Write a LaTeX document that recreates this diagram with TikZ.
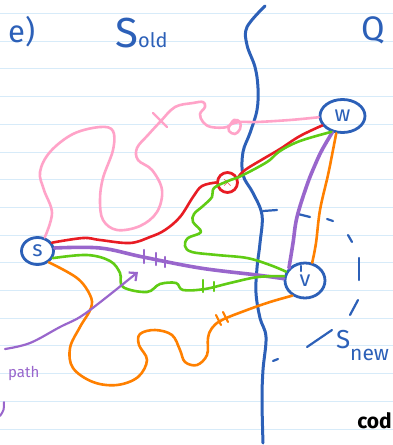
\documentclass[tikz,border=0pt]{standalone}
\usepackage{fontspec}
\setmainfont{Fira Sans}
\usetikzlibrary{shapes.geometric,arrows.meta}
\definecolor{ink}{RGB}{44,96,184}
\definecolor{pinkc}{RGB}{255,163,200}
\definecolor{redc}{RGB}{232,28,36}
\definecolor{greenc}{RGB}{96,204,20}
\definecolor{purplec}{RGB}{153,102,204}
\definecolor{orangec}{RGB}{255,128,0}
\definecolor{paper}{RGB}{215,235,249}
\begin{document}
\begin{tikzpicture}[x=1pt,y=-1pt,line cap=round,line join=round,
  pen/.style={line width=2.6pt},
  thickpen/.style={line width=3.6pt},
  vert/.style={ellipse,draw=ink,line width=2.8pt,inner sep=0pt,text=ink,font=\fontsize{22}{22}\selectfont},
  tick/.style={line width=2.2pt},
  dsh/.style={draw=ink,line width=2.2pt},
  lbl/.style={inner sep=0pt,text=ink}]
\useasboundingbox (0,0) rectangle (393,445);
\fill[white] (0,0) rectangle (393,445);
\foreach \k in {0,...,15} \draw[paper,line width=1pt] (0,13.5+27.7*\k) -- (393,13.5+27.7*\k);

% nodes
\node[vert,minimum width=32pt,minimum height=27pt] (S) at (37.5,251) {s};
\node[vert,minimum width=45pt,minimum height=33pt] (w) at (342.5,116) {w};
\node[vert,minimum width=40pt,minimum height=35pt] (v) at (305,280.5) {v};
\node[circle,draw=redc,line width=2.8pt,minimum size=20pt,inner sep=0pt,text=redc,font=\fontsize{14}{14}\selectfont] (x) at (227.5,182.5) {$\times$};

% boundary
\draw[ink,line width=3pt] plot[smooth,tension=0.6] coordinates {(265,6) (247,27) (247,45) (255,67) (258,88) (257,110) (250,133) (243,152) (243,175) (253,193) (262,215) (260,243) (257,268) (256,293) (260,318) (266,337) (263,370) (262,400) (263,443)};

% S_new dashed circle pieces
\draw[dsh] (263,211) -- (277,210);
\draw[dsh] (298,214) -- (310,217);
\draw[dsh] (327,219) -- (333,221);
\draw[dsh] (348,235) -- (352,242);
\draw[dsh] (359,258) -- (359,280);
\draw[dsh] (358,300) -- (350,315);
\draw[dsh] (332,330) -- (307,347);
\draw[dsh] (278,359) -- (273,361);
\draw[dsh] (301,266) -- (301,271);

% pink
\draw[pinkc,pen] plot[smooth,tension=0.6] coordinates {(S.62) (52,213) (44,190) (40,172) (50,152) (73,134) (100,127) (113,131) (113,150) (103,178) (100,200) (103,220) (117,230) (140,226) (157,212) (162,190) (152,170) (138,160) (137,148) (148,135) (160,122) (175,107) (193,103) (203,102) (205,107) (200,114) (203,122) (211,127) (227,127) (234,120) (240,122) (240,129) (235,134) (229,131) (230,125) (240,122) (257,122) (290,120) (w.183)};
\draw[pinkc,tick] (153,113) -- (167,127);

% red
\draw[redc,pen] plot[smooth,tension=0.6] coordinates {(S.30) (83,238) (100,240) (130,243) (150,237) (165,230) (180,217) (193,197) (202,186) (x.180)};
\draw[redc,pen] plot[smooth,tension=0.6] coordinates {(x.25) (245,170) (263,159) (280,149) (300,136) (w.205)};

% purple
\draw[purplec,thickpen] plot[smooth,tension=0.6] coordinates {(S.10) (100,248) (143,257) (200,268) (257,275) (v.175)};
\draw[purplec,thickpen] plot[smooth,tension=0.6] coordinates {(v.142) (293,243) (297,217) (307,185) (315,165) (322,150) (w.238)};
\foreach \xx/\ya/\yb in {144/250/263,156/253/265,165/257/267} \draw[purplec,tick] (\xx,\ya) -- (\xx,\yb);

% green
\draw[greenc,pen] plot[smooth,tension=0.6] coordinates {(S.-25) (87,255) (110,261) (120,273) (123,287) (147,292) (160,284) (176,283) (183,290) (205,289) (230,283) (258,277) (v.168)};
\draw[greenc,pen] plot[smooth,tension=0.6] coordinates {(v.155) (270,265) (247,258) (217,255) (192,252) (185,246) (188,238) (201,232) (193,222) (194,214) (203,206) (212,197) (214,188) (228,181) (241,176) (267,162) (280,151) (300,141) (w.235)};
\draw[greenc,tick] (203,280) -- (203,292);
\draw[greenc,tick] (214,282) -- (214,291);

% orange
\draw[orangec,pen] plot[smooth,tension=0.6] coordinates {(S.-45) (77,278) (90,295) (91,308) (80,327) (70,348) (73,368) (93,382) (117,385) (138,377) (147,360) (139,345) (140,334) (155,330) (172,335) (180,350) (185,362) (197,365) (207,355) (208,338) (212,328) (222,320) (247,310) (270,302) (v.230)};
\draw[orangec,pen] plot[smooth,tension=0.6] coordinates {(w.250) (333,150) (328,175) (320,210) (316,243) (v.68)};
\draw[orangec,tick] (216,315) -- (221,325);
\draw[orangec,tick] (223,312) -- (228,322);

% purple arrow "path"
\coordinate (pa) at (5,349);
\coordinate (pb) at (138,272);
\draw[purplec,line width=2.2pt,-{Straight Barb[length=6pt,width=11pt]}] plot[smooth,tension=0.6] coordinates {(pa) (30,343) (60,327) (80,317) (103,300) (pb)};
\node[inner sep=0pt,anchor=base west,text=purplec,font=\fontsize{15}{15}\selectfont] (ptext) at (8,377) {path};
\draw[purplec,line width=2pt] (4,402) .. controls (4,410) .. (0,416);

% labels
\node[lbl,anchor=base west,font=\fontsize{31}{31}\selectfont] (e) at (8,42) {e)};
\node[lbl,anchor=base west] (sold) at (115,47) {\fontsize{42}{42}\selectfont S\fontsize{20}{20}\selectfont old};
\node[lbl,anchor=base west,font=\fontsize{34}{34}\selectfont] (Q) at (361,40) {Q};
\node[lbl,anchor=base west,font=\fontsize{26}{26}\selectfont] (snS) at (336,348) {S};
\node[lbl,anchor=base west,font=\fontsize{21}{21}\selectfont] (snn) at (350,360) {new};
\node[inner sep=0pt,anchor=base east,font=\bfseries\fontsize{21}{21}\selectfont] (cod) at (392,428) {cod};
\end{tikzpicture}
\end{document}
